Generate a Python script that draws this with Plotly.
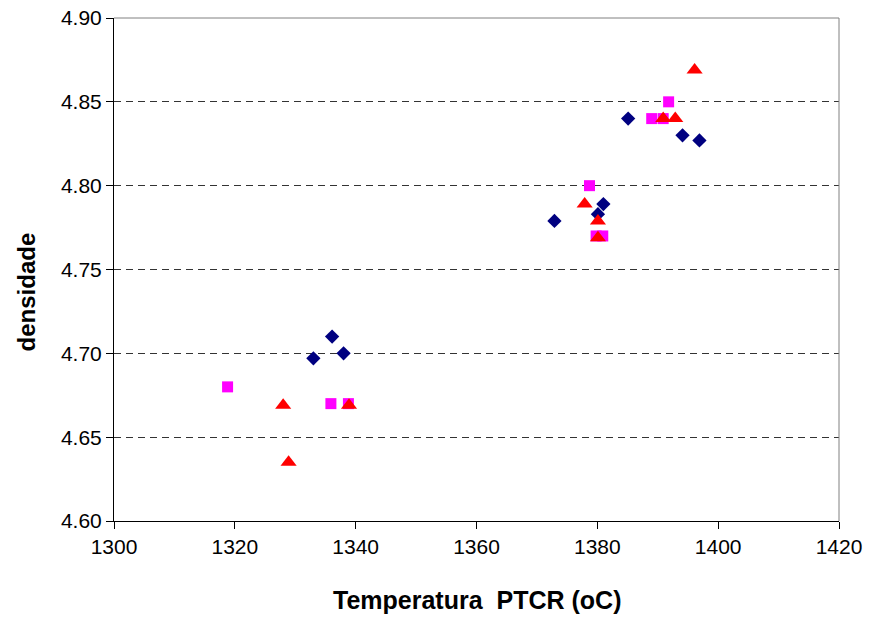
import plotly.graph_objects as go

# Data
diamond_T = [1333.0, 1336.1, 1338.0, 1372.9, 1380.1, 1381.0, 1385.1, 1394.1, 1396.9]
diamond_d = [4.697, 4.710, 4.700, 4.779, 4.783, 4.789, 4.840, 4.830, 4.827]

square_T = [1318.8, 1335.9, 1338.8, 1378.7, 1379.8, 1380.9, 1389.0, 1390.9, 1391.8]
square_d = [4.680, 4.670, 4.670, 4.800, 4.770, 4.770, 4.840, 4.840, 4.850]

triangle_T = [1328.0, 1328.9, 1338.9, 1377.9, 1380.1, 1380.1, 1390.9, 1392.9, 1396.1]
triangle_d = [4.669, 4.635, 4.669, 4.789, 4.779, 4.769, 4.840, 4.840, 4.869]

x_ticks = [1300, 1320, 1340, 1360, 1380, 1400, 1420]
y_ticks = [4.60, 4.65, 4.70, 4.75, 4.80, 4.85, 4.90]

x_title = "Temperatura  PTCR (oC)"
y_title = "densidade"

FONT = "Liberation Sans, Arial, sans-serif"

fig = go.Figure()
fig.add_trace(go.Scatter(x=diamond_T, y=diamond_d, mode="markers",
                         marker=dict(symbol="diamond", size=11, color="#000080"),
                         name="diamond", showlegend=False))
fig.add_trace(go.Scatter(x=square_T, y=square_d, mode="markers",
                         marker=dict(symbol="square", size=11, color="#FF00FF"),
                         name="square", showlegend=False))
fig.add_trace(go.Scatter(x=triangle_T, y=triangle_d, mode="markers",
                         marker=dict(symbol="triangle-up", size=14, color="#FF0000"),
                         name="triangle", showlegend=False))

fig.update_layout(
    width=870, height=618,
    margin=dict(l=114, r=31, t=18, b=97, autoexpand=False),
    paper_bgcolor="white", plot_bgcolor="white",
    font=dict(family=FONT, color="black"),
    showlegend=False,
)
fig.update_xaxes(range=[1300, 1420], tickvals=x_ticks, ticktext=[str(v) for v in x_ticks],
                 ticks="outside", ticklen=7, tickcolor="black", tickwidth=1,
                 showline=True, linecolor="black", linewidth=1, showgrid=False,
                 zeroline=False, tickfont=dict(size=21, family=FONT))
fig.update_yaxes(range=[4.6, 4.9], tickvals=y_ticks, ticktext=["%.2f" % v for v in y_ticks],
                 ticks="outside", ticklen=7, tickcolor="black", tickwidth=1,
                 showline=True, linecolor="black", linewidth=1,
                 showgrid=True, gridcolor="#333333", gridwidth=1, griddash="7px,5px",
                 zeroline=False, tickfont=dict(size=21, family=FONT))

# gray frame on top and right
fig.add_shape(type="line", xref="paper", yref="paper", x0=0, x1=1, y0=1, y1=1,
              line=dict(color="#808080", width=1))
fig.add_shape(type="line", xref="paper", yref="paper", x0=1, x1=1, y0=0, y1=1,
              line=dict(color="#808080", width=1))

fig.add_annotation(text="<b>%s</b>" % x_title, xref="paper", yref="paper",
                   x=0.5, y=-0.157, xanchor="center", yanchor="middle",
                   showarrow=False, font=dict(size=25, family=FONT, color="black"))
fig.add_annotation(text="<b>%s</b>" % y_title, xref="paper", yref="paper",
                   x=-0.121, y=0.455, xanchor="center", yanchor="middle", textangle=-90,
                   showarrow=False, font=dict(size=24, family=FONT, color="black"))

fig.write_html("out.html", config={"displayModeBar": False},
               post_script="document.body.style.margin='0';document.body.style.overflow='hidden';")
